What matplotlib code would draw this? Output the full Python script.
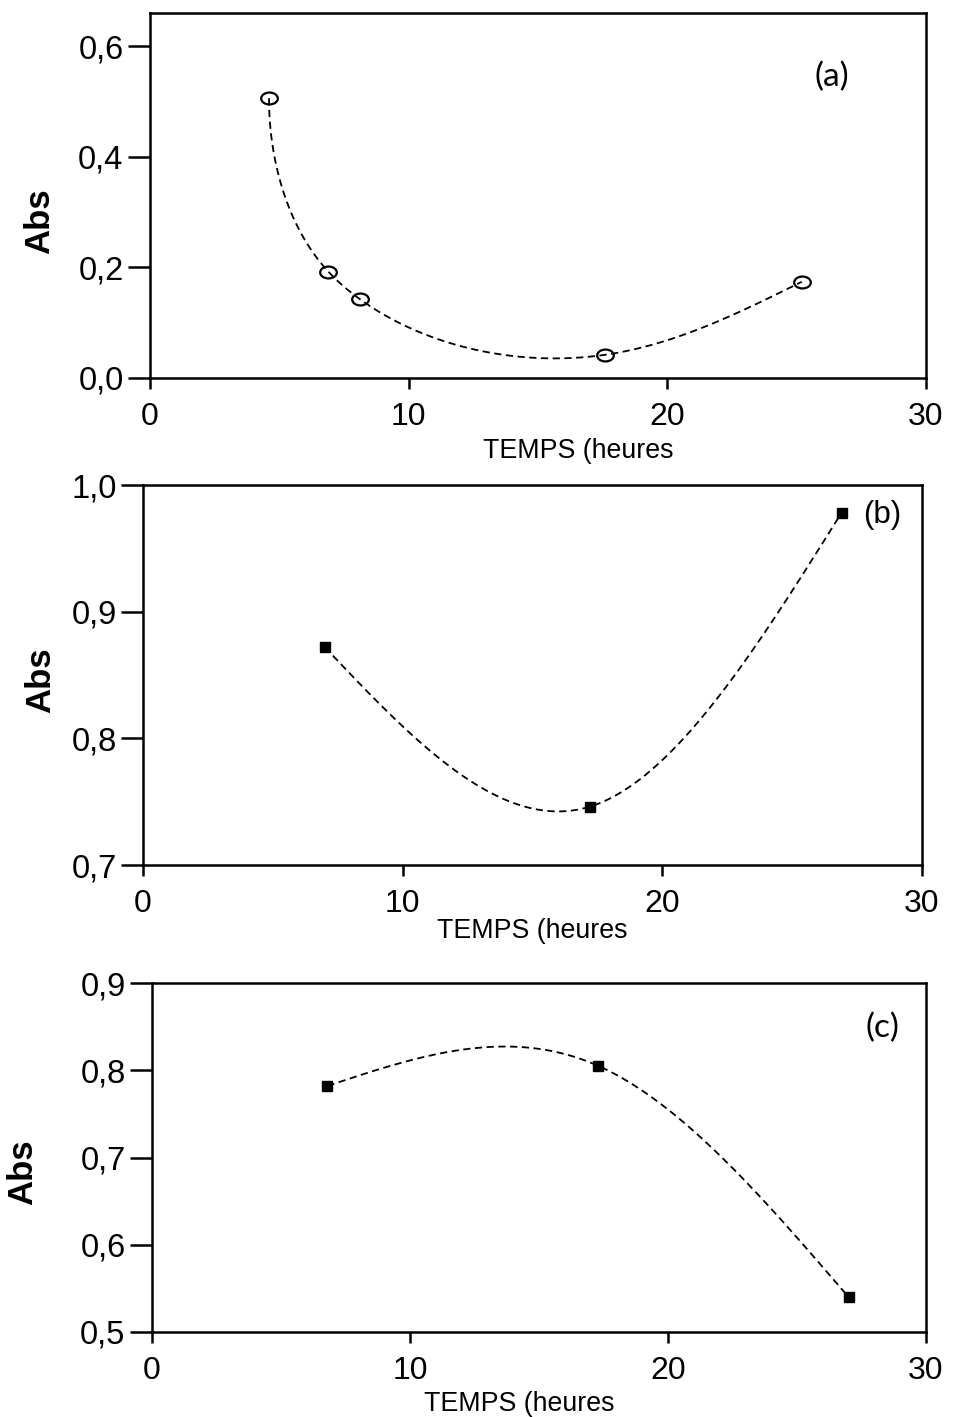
import numpy as np
import matplotlib
matplotlib.use("Agg")
import matplotlib.pyplot as plt
from matplotlib.path import Path
from matplotlib.transforms import Affine2D

# panel (a)
temps_a = [4.6, 6.9, 8.1, 17.6, 25.2]
abs_a = [0.506, 0.192, 0.143, 0.042, 0.174]
# panel (b)
temps_b = [7.0, 17.2, 26.9]
abs_b = [0.872, 0.746, 0.978]
# panel (c)
temps_c = [6.8, 17.3, 27.0]
abs_c = [0.782, 0.805, 0.540]

xticks = [0, 10, 20, 30]
yticks_a = [0.0, 0.2, 0.4, 0.6]
yticks_b = [0.7, 0.8, 0.9, 1.0]
yticks_c = [0.5, 0.6, 0.7, 0.8, 0.9]


def cubic_spline(t, y, t_new, d0=None):
    # natural cubic spline, optionally clamped slope at the first knot
    t = np.asarray(t, float)
    y = np.asarray(y, float)
    m = len(t)
    h = np.diff(t)
    A = np.zeros((m, m))
    r = np.zeros(m)
    if d0 is None:
        A[0, 0] = 1
    else:
        A[0, 0] = 2 * h[0]
        A[0, 1] = h[0]
        r[0] = 3 * ((y[1] - y[0]) / h[0] - d0)
    A[-1, -1] = 1
    for i in range(1, m - 1):
        A[i, i - 1] = h[i - 1]
        A[i, i] = 2 * (h[i - 1] + h[i])
        A[i, i + 1] = h[i]
        r[i] = 3 * ((y[i + 1] - y[i]) / h[i] - (y[i] - y[i - 1]) / h[i - 1])
    c = np.linalg.solve(A, r)
    b = (y[1:] - y[:-1]) / h - h * (2 * c[:-1] + c[1:]) / 3
    d = (c[1:] - c[:-1]) / (3 * h)
    idx = np.clip(np.searchsorted(t, t_new, side="right") - 1, 0, m - 2)
    dt = t_new - t[idx]
    return y[idx] + b[idx] * dt + c[idx] * dt ** 2 + d[idx] * dt ** 3


W, H = 966, 1417
fig = plt.figure(figsize=(W / 100, H / 100), dpi=100)


def make_axes(l, t, r, b):
    return fig.add_axes([l / W, 1 - b / H, (r - l) / W, (b - t) / H])


def style(ax, ylim, yticks, ylab_xy, xlab_xy):
    ax.set_xlim(0, 30)
    ax.set_ylim(*ylim)
    ax.set_xticks(xticks)
    ax.set_yticks(yticks)
    ax.set_yticklabels([f"{v:.1f}".replace(".", ",") for v in yticks])
    for s in ax.spines.values():
        s.set_linewidth(1.8)
    ax.tick_params(axis="y", direction="out", length=16, width=1.8,
                   pad=3, labelsize=23.5)
    ax.tick_params(axis="x", direction="out", length=8, width=1.8,
                   pad=9, labelsize=23)
    for lab in ax.get_xticklabels() + ax.get_yticklabels():
        lab.set_fontfamily("Liberation Sans")
    ax.set_ylabel("Abs", fontsize=25, fontweight="bold",
                  fontfamily="Liberation Sans", va="center")
    ax.yaxis.set_label_coords(*ylab_xy)
    ax.set_xlabel("TEMPS (heures", fontsize=19.3,
                  fontfamily="Liberation Sans")
    ax.xaxis.set_label_coords(*xlab_xy)


dash = (0, (4, 2.5))

# (a)
ax = make_axes(150, 13, 926, 378)
ylim_a = (0, 0.66)
style(ax, ylim_a, yticks_a, (-0.142, 0.43), (0.552, -0.165))
xa = np.array(temps_a) / 30
ya = np.array(abs_a) / (ylim_a[1] - ylim_a[0]) * (365 / 776)
ta = np.concatenate([[0], np.cumsum(np.hypot(np.diff(xa), np.diff(ya)))])
tt = np.linspace(0, ta[-1], 400)
cx = cubic_spline(ta, xa, tt, d0=0.0) * 30
cy = cubic_spline(ta, ya, tt, d0=-1.0) * (ylim_a[1] - ylim_a[0]) / (365 / 776)
ax.plot(cx, cy, color="black", lw=1.3, ls=dash)
ellipse = Affine2D().scale(1.4, 1.0).transform_path(Path.unit_circle())
ax.plot(temps_a, abs_a, ls="none", marker=ellipse, ms=12, mfc="none",
        mec="black", mew=1.6)
ax.text(0.879, 0.825, "(a)", transform=ax.transAxes, fontsize=24,
        fontfamily="Lato", ha="center", va="center")

# (b)
ax = make_axes(143, 485, 922, 865)
style(ax, (0.7, 1.0), yticks_b, (-0.132, 0.487), (0.5, -0.14))
xx = np.linspace(temps_b[0], temps_b[-1], 300)
ax.plot(xx, cubic_spline(temps_b, abs_b, xx), color="black", lw=1.3, ls=dash)
ax.plot(temps_b, abs_b, ls="none", marker="s", ms=6.5, color="black")
ax.text(0.949, 0.921, "(b)", transform=ax.transAxes, fontsize=22.5,
        fontfamily="Liberation Sans", ha="center", va="center")

# (c)
ax = make_axes(152, 983, 926, 1332)
style(ax, (0.5, 0.9), yticks_c, (-0.167, 0.458), (0.475, -0.17))
xx = np.linspace(temps_c[0], temps_c[-1], 300)
ax.plot(xx, cubic_spline(temps_c, abs_c, xx), color="black", lw=1.3, ls=dash)
ax.plot(temps_c, abs_c, ls="none", marker="s", ms=6.5, color="black")
ax.text(0.944, 0.871, "(c)", transform=ax.transAxes, fontsize=24,
        fontfamily="Lato", ha="center", va="center")

fig.savefig("out.png", dpi=100)
